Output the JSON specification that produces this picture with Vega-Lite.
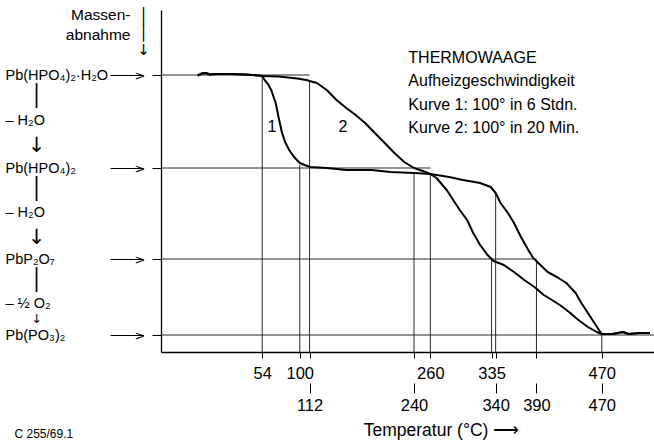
{
  "$schema": "https://vega.github.io/schema/vega-lite/v6.json",
  "width": 493,
  "height": 342,
  "autosize": "none",
  "padding": {"left": 161, "top": 10, "right": 0, "bottom": 92},
  "background": "white",
  "config": {"view": {"stroke": null}, "axis": {"grid": false}},
  "datasets": {
    "kurven": [
      {"Kurve": "1", "T": -25, "m": 0.05}, {"Kurve": "1", "T": -20, "m": -0.15}, {"Kurve": "1", "T": -15, "m": -0.2}, {"Kurve": "1", "T": -10, "m": -0.05}, {"Kurve": "1", "T": -4, "m": -0.1}, {"Kurve": "1", "T": 15, "m": -0.1}, {"Kurve": "1", "T": 33, "m": -0.05}, {"Kurve": "1", "T": 49, "m": 0.05}, {"Kurve": "1", "T": 54, "m": 0.1},
      {"Kurve": "1", "T": 57, "m": 0.5}, {"Kurve": "1", "T": 61, "m": 0.9}, {"Kurve": "1", "T": 65, "m": 1.5}, {"Kurve": "1", "T": 70.5, "m": 2.8}, {"Kurve": "1", "T": 74, "m": 4.2}, {"Kurve": "1", "T": 78, "m": 5.7}, {"Kurve": "1", "T": 82, "m": 6.7}, {"Kurve": "1", "T": 87, "m": 7.5}, {"Kurve": "1", "T": 93, "m": 8.2}, {"Kurve": "1", "T": 100, "m": 8.8}, {"Kurve": "1", "T": 106, "m": 9.0}, {"Kurve": "1", "T": 113, "m": 9.2}, {"Kurve": "1", "T": 133, "m": 9.3}, {"Kurve": "1", "T": 157, "m": 9.5}, {"Kurve": "1", "T": 188, "m": 9.5}, {"Kurve": "1", "T": 211, "m": 9.7}, {"Kurve": "1", "T": 240, "m": 9.8}, {"Kurve": "1", "T": 260, "m": 9.9},
      {"Kurve": "1", "T": 267.5, "m": 10.3}, {"Kurve": "1", "T": 280, "m": 11.5}, {"Kurve": "1", "T": 296, "m": 13.5}, {"Kurve": "1", "T": 305, "m": 14.5}, {"Kurve": "1", "T": 312.5, "m": 15.8}, {"Kurve": "1", "T": 321, "m": 17.0}, {"Kurve": "1", "T": 330, "m": 18.0}, {"Kurve": "1", "T": 335, "m": 18.4}, {"Kurve": "1", "T": 337.5, "m": 18.6}, {"Kurve": "1", "T": 350, "m": 19.0}, {"Kurve": "1", "T": 362.5, "m": 19.7}, {"Kurve": "1", "T": 375, "m": 20.5}, {"Kurve": "1", "T": 387.5, "m": 21.2}, {"Kurve": "1", "T": 399, "m": 22.0}, {"Kurve": "1", "T": 407, "m": 22.4}, {"Kurve": "1", "T": 418.6, "m": 23.0}, {"Kurve": "1", "T": 430, "m": 23.7}, {"Kurve": "1", "T": 441.4, "m": 24.5}, {"Kurve": "1", "T": 453, "m": 25.2}, {"Kurve": "1", "T": 464, "m": 25.7}, {"Kurve": "1", "T": 470, "m": 25.9}, {"Kurve": "1", "T": 483, "m": 25.9}, {"Kurve": "1", "T": 496, "m": 25.7}, {"Kurve": "1", "T": 503, "m": 25.9}, {"Kurve": "1", "T": 516, "m": 25.8}, {"Kurve": "1", "T": 529, "m": 25.8},
      {"Kurve": "2", "T": -25, "m": 0.05}, {"Kurve": "2", "T": -20, "m": -0.15}, {"Kurve": "2", "T": -15, "m": -0.2}, {"Kurve": "2", "T": -10, "m": -0.05}, {"Kurve": "2", "T": -4, "m": -0.1}, {"Kurve": "2", "T": 15, "m": -0.1}, {"Kurve": "2", "T": 33, "m": -0.05}, {"Kurve": "2", "T": 49, "m": 0.05}, {"Kurve": "2", "T": 54, "m": 0.1},
      {"Kurve": "2", "T": 74, "m": 0.15}, {"Kurve": "2", "T": 97, "m": 0.35}, {"Kurve": "2", "T": 108, "m": 0.5}, {"Kurve": "2", "T": 112, "m": 0.6}, {"Kurve": "2", "T": 121, "m": 0.8}, {"Kurve": "2", "T": 133, "m": 1.5}, {"Kurve": "2", "T": 145, "m": 2.5}, {"Kurve": "2", "T": 157, "m": 3.3}, {"Kurve": "2", "T": 168.5, "m": 4.0}, {"Kurve": "2", "T": 180, "m": 4.8}, {"Kurve": "2", "T": 192, "m": 5.8}, {"Kurve": "2", "T": 204, "m": 6.8}, {"Kurve": "2", "T": 216, "m": 7.8}, {"Kurve": "2", "T": 228, "m": 8.7}, {"Kurve": "2", "T": 240, "m": 9.3}, {"Kurve": "2", "T": 254, "m": 9.7}, {"Kurve": "2", "T": 260, "m": 9.9},
      {"Kurve": "2", "T": 283, "m": 10.2}, {"Kurve": "2", "T": 300, "m": 10.5}, {"Kurve": "2", "T": 321, "m": 10.8}, {"Kurve": "2", "T": 334, "m": 11.2}, {"Kurve": "2", "T": 340, "m": 11.8}, {"Kurve": "2", "T": 346, "m": 12.8}, {"Kurve": "2", "T": 355, "m": 13.8}, {"Kurve": "2", "T": 362.5, "m": 14.8}, {"Kurve": "2", "T": 371, "m": 16.2}, {"Kurve": "2", "T": 380, "m": 17.5}, {"Kurve": "2", "T": 386, "m": 18.3}, {"Kurve": "2", "T": 390, "m": 18.6}, {"Kurve": "2", "T": 392.3, "m": 18.8}, {"Kurve": "2", "T": 403.7, "m": 19.7}, {"Kurve": "2", "T": 415, "m": 20.2}, {"Kurve": "2", "T": 426.6, "m": 20.8}, {"Kurve": "2", "T": 438, "m": 21.8}, {"Kurve": "2", "T": 445, "m": 22.8}, {"Kurve": "2", "T": 453, "m": 23.8}, {"Kurve": "2", "T": 461, "m": 24.8}, {"Kurve": "2", "T": 466.6, "m": 25.5}, {"Kurve": "2", "T": 470, "m": 25.9}, {"Kurve": "2", "T": 483, "m": 25.9}, {"Kurve": "2", "T": 496, "m": 25.7}, {"Kurve": "2", "T": 503, "m": 25.9}, {"Kurve": "2", "T": 516, "m": 25.8}, {"Kurve": "2", "T": 529, "m": 25.8}
    ],
    "niveaus": [
      {"Stoff": "Pb(HPO4)2·H2O", "m": 0, "bis": 112},
      {"Stoff": "Pb(HPO4)2", "m": 9.3, "bis": 260},
      {"Stoff": "PbP2O7", "m": 18.4, "bis": 390},
      {"Stoff": "Pb(PO3)2", "m": 26, "bis": 534}
    ],
    "linien": [
      {"T": 54, "von": 0.2}, {"T": 112, "von": 0.5}, {"T": 100, "von": 9.0}, {"T": 240, "von": 9.8}, {"T": 260, "von": 9.9}, {"T": 340, "von": 11.8}, {"T": 335, "von": 18.4}, {"T": 390, "von": 18.6}, {"T": 470, "von": 25.9}
    ],
    "kurvennamen": [
      {"Kurve": "1", "T": 66, "m": 5.2},
      {"Kurve": "2", "T": 153, "m": 5.2}
    ]
  },
  "resolve": {"axis": {"x": "independent", "y": "independent"}},
  "layer": [
    {
      "data": {"name": "niveaus"},
      "mark": {"type": "rule", "color": "#2a2a2a", "strokeWidth": 1},
      "encoding": {
        "y": {
          "field": "m", "type": "quantitative",
          "scale": {"domain": [-6.5, 27.7], "reverse": true, "nice": false, "zero": false},
          "axis": {
            "orient": "left", "offset": 18,
            "values": [0, 9.3, 18.4, 26],
            "domain": false, "tickSize": 33, "tickColor": "black", "tickWidth": 1,
            "labelExpr": "'>'", "labelFont": "DejaVu Sans", "labelFontSize": 13, "labelColor": "black",
            "labelAlign": "right", "labelBaseline": "middle", "labelPadding": -35,
            "labelOverlap": false, "labelBound": false, "labelFlush": false,
            "title": ["│", "│", "↓"], "titleFont": "DejaVu Sans", "titleFontSize": 15, "titleLineHeight": 17,
            "titleFontWeight": "normal", "titleColor": "black", "titleAngle": 0, "titleAlign": "center",
            "titleBaseline": "top", "titleX": 0, "titleY": -2
          }
        },
        "x": {
          "field": "bis", "type": "quantitative",
          "scale": {"domain": [-70, 534], "nice": false, "zero": false},
          "axis": {
            "orient": "bottom", "offset": 31,
            "values": [112, 240, 340, 390, 470], "format": "d",
            "domain": false, "tickSize": 10, "tickColor": "black", "tickWidth": 1,
            "labelFont": "Liberation Sans", "labelFontSize": 16.5, "labelColor": "black",
            "labelBaseline": "middle", "labelPadding": 12,
            "labelOverlap": false, "labelBound": false, "labelFlush": false,
            "title": "Temperatur (°C) ⟶", "titleFont": "Liberation Sans",
            "titleFontSize": 17.5, "titleFontWeight": "normal", "titleColor": "black",
            "titleAlign": "center", "titleBaseline": "alphabetic", "titleX": 280, "titleY": 52
          }
        },
        "x2": {"datum": -70}
      }
    },
    {
      "data": {"name": "linien"},
      "mark": {"type": "rule", "color": "#2a2a2a", "strokeWidth": 1},
      "encoding": {
        "x": {"field": "T", "type": "quantitative", "scale": {"domain": [-70, 534], "nice": false, "zero": false}, "axis": null},
        "y": {"field": "von", "type": "quantitative", "scale": {"domain": [-6.5, 27.7], "reverse": true, "nice": false, "zero": false}, "axis": null},
        "y2": {"datum": 27.7}
      }
    },
    {
      "data": {"name": "kurven"},
      "mark": {"type": "line", "color": "black", "strokeWidth": 2, "strokeJoin": "round"},
      "encoding": {
        "detail": {"field": "Kurve"},
        "x": {
          "field": "T", "type": "quantitative",
          "scale": {"domain": [-70, 534], "nice": false, "zero": false},
          "axis": {
            "orient": "bottom",
            "values": [54, 100, 112, 240, 260, 335, 340, 390, 470], "format": "d",
            "labelExpr": "indexof([54, 100, 260, 335, 470], datum.value) >= 0 ? datum.label : ''",
            "domain": true, "domainColor": "black", "domainWidth": 1.3,
            "tickSize": 6, "tickColor": "black", "tickWidth": 1,
            "labelFont": "Liberation Sans", "labelFontSize": 16.5, "labelColor": "black",
            "labelBaseline": "middle", "labelPadding": 15,
            "labelOverlap": false, "labelBound": false, "labelFlush": false,
            "title": "C 255/69.1", "titleFont": "Liberation Sans",
            "titleFontSize": 12, "titleFontWeight": "normal", "titleColor": "black",
            "titleAlign": "left", "titleBaseline": "alphabetic", "titleX": -147, "titleY": 85
          }
        },
        "y": {
          "field": "m", "type": "quantitative",
          "scale": {"domain": [-6.5, 27.7], "reverse": true, "nice": false, "zero": false},
          "axis": {
            "orient": "left",
            "values": [0, 2.1, 4.5, 7, 9.3, 11.4, 13.7, 16.2, 18.4, 20.5, 22.8, 24.3, 26],
            "labelExpr": "['Pb(HPO₄)₂·H₂O', '│', '– H₂O', '↓', 'Pb(HPO₄)₂', '│', '– H₂O', '↓', 'PbP₂O₇', '│', '– ½ O₂', '↓', 'Pb(PO₃)₂'][indexof([0, 2.1, 4.5, 7, 9.3, 11.4, 13.7, 16.2, 18.4, 20.5, 22.8, 24.3, 26], datum.value)]",
            "domain": true, "domainColor": "black", "domainWidth": 1.3,
            "tickSize": 9, "tickColor": "black", "tickWidth": 1,
            "tickOpacity": {"condition": {"test": "indexof([0, 9.3, 18.4, 26], datum.value) >= 0", "value": 1}, "value": 0},
            "labelAlign": {"condition": {"test": "indexof([2.1, 7, 11.4, 16.2, 20.5, 24.3], datum.value) >= 0", "value": "center"}, "value": "left"},
            "labelPadding": {"condition": {"test": "indexof([2.1, 7, 11.4, 16.2, 20.5, 24.3], datum.value) >= 0", "value": 116}, "value": 147},
            "labelFontSize": {"condition": [{"test": "datum.value == 24.3", "value": 12.5}, {"test": "indexof([2.1, 7, 11.4, 16.2, 20.5], datum.value) >= 0", "value": 21}], "value": 14.5},
            "labelFont": {"condition": {"test": "indexof([2.1, 7, 11.4, 16.2, 20.5, 24.3], datum.value) >= 0", "value": "DejaVu Sans"}, "value": "Liberation Sans"},
            "labelColor": "black", "labelBaseline": "middle",
            "labelOverlap": false, "labelBound": false, "labelFlush": false, "labelLimit": 0,
            "title": ["Massen-", "abnahme"], "titleFont": "Liberation Sans",
            "titleFontSize": 15.5, "titleLineHeight": 20, "titleFontWeight": "normal", "titleColor": "black",
            "titleAngle": 0, "titleAlign": "right", "titleBaseline": "alphabetic", "titleX": -31, "titleY": 9
          }
        }
      }
    },
    {
      "data": {"name": "kurvennamen"},
      "mark": {"type": "text", "font": "Liberation Sans", "fontSize": 16, "color": "black", "align": "center", "baseline": "middle"},
      "encoding": {
        "x": {"field": "T", "type": "quantitative", "scale": {"domain": [-70, 534], "nice": false, "zero": false}, "axis": null},
        "y": {"field": "m", "type": "quantitative", "scale": {"domain": [-6.5, 27.7], "reverse": true, "nice": false, "zero": false}, "axis": null},
        "text": {"field": "Kurve"}
      }
    },
    {
      "data": {"values": [{}]},
      "mark": {"type": "text", "font": "Liberation Sans", "fontSize": 16, "color": "black", "align": "left", "baseline": "alphabetic", "lineHeight": 23.3},
      "encoding": {
        "x": {"datum": 233, "type": "quantitative", "scale": {"domain": [-70, 534], "nice": false, "zero": false}, "axis": null},
        "y": {"datum": -1.2, "type": "quantitative", "scale": {"domain": [-6.5, 27.7], "reverse": true, "nice": false, "zero": false}, "axis": null},
        "text": {"value": ["THERMOWAAGE", "Aufheizgeschwindigkeit", "Kurve 1: 100° in 6 Stdn.", "Kurve 2: 100° in 20 Min."]}
      }
    }
  ]
}
